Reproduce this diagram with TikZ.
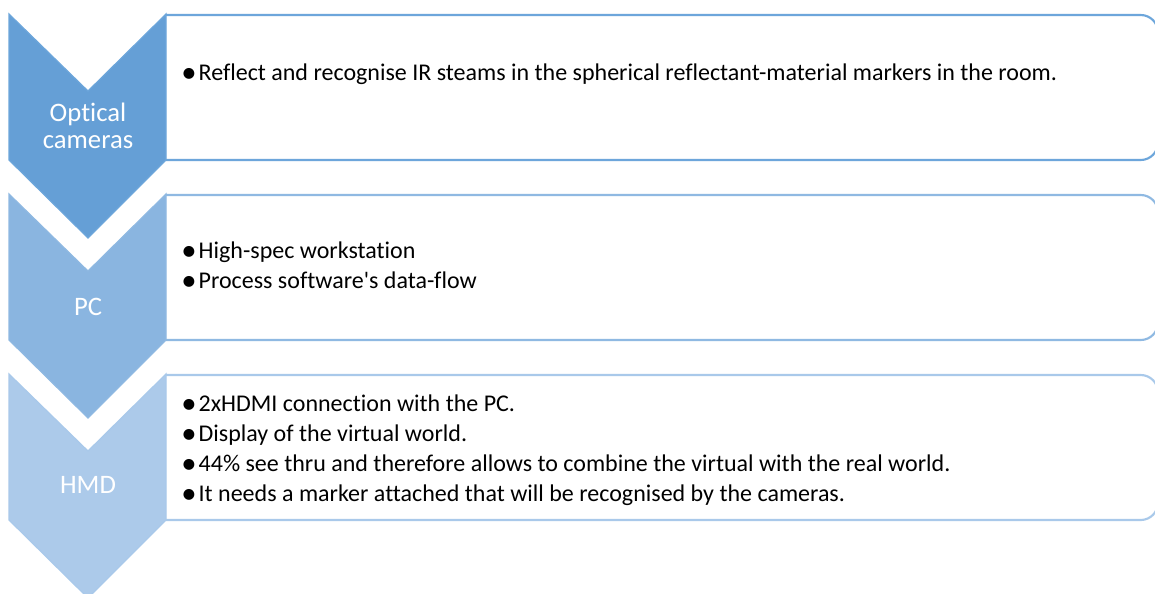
\documentclass[tikz,border=0pt]{standalone}
\usepackage{fontspec}
\setmainfont{Carlito}[Ligatures={NoCommon}]
\definecolor{chA}{HTML}{659FD6}
\definecolor{chAo}{HTML}{6DA6DB}
\definecolor{chB}{HTML}{8AB5E0}
\definecolor{chBo}{HTML}{8FB9E2}
\definecolor{chC}{HTML}{ACCAEA}
\definecolor{chCo}{HTML}{A9C9EA}
\newcommand{\bl}{\raisebox{-1.6pt}{\fontsize{23}{23}\selectfont •}\hspace{1.6pt}}
\tikzset{
  chev/.style={line width=0.9pt},
  listbox/.style={line width=1.6pt, rounded corners=13pt},
  lbl/.style={text=white, font=\fontsize{20}{24}\selectfont, align=center, inner sep=0pt},
  bul/.style={anchor=base west, inner sep=0pt, font=\fontsize{18}{22.5}\selectfont}
}
\begin{document}
\begin{tikzpicture}[x=0.75pt,y=-0.75pt]
\useasboundingbox (0,0) rectangle (1155,593);
\clip (0,0) rectangle (1155,593);
\fill[white] (0,0) rectangle (1155,593);
% boxes
\draw[listbox, draw=chAo] (166,15) -- (1158,15) -- (1158,160) -- (166,160);
\draw[listbox, draw=chBo] (166,195) -- (1158,195) -- (1158,340) -- (166,340);
\draw[listbox, draw=chCo] (166,375) -- (1158,375) -- (1158,520) -- (166,520);
% chevrons
\draw[chev, fill=chA, draw=chAo] (9,14) -- (88,91) -- (166,14) -- (166,160) -- (88,238) -- (9,160) -- cycle;
\draw[chev, fill=chB, draw=chBo] (9,194) -- (88,271) -- (166,194) -- (166,340) -- (88,418) -- (9,340) -- cycle;
\draw[chev, fill=chC, draw=chCo] (9,374) -- (88,451) -- (166,374) -- (166,520) -- (88,598) -- (9,520) -- cycle;
% labels
\node[lbl, anchor=base] (l1a) at (88,121) {Optical};
\node[lbl, anchor=base] (l1b) at (88,148) {cameras};
\node[lbl, anchor=base] (l2) at (88,315) {PC};
\node[lbl, anchor=base] (l3) at (88,493) {HMD};
% bullets
\node[bul] (t1) at (181,80) {\bl Reflect and recognise IR steams in the spherical reflectant-material markers in the room.};
\node[bul] (t2a) at (181,258) {\bl High-spec workstation};
\node[bul] (t2b) at (181,288) {\bl Process software\textquotesingle s data-flow};
\node[bul] (t3a) at (181,411) {\bl 2xHDMI connection with the PC.};
\node[bul] (t3b) at (181,441) {\bl Display of the virtual world.};
\node[bul] (t3c) at (181,471) {\bl 44\% see thru and therefore allows to combine the virtual with the real world.};
\node[bul] (t3d) at (181,501) {\bl It needs a marker attached that will be recognised by the cameras.};
\end{tikzpicture}
\end{document}
